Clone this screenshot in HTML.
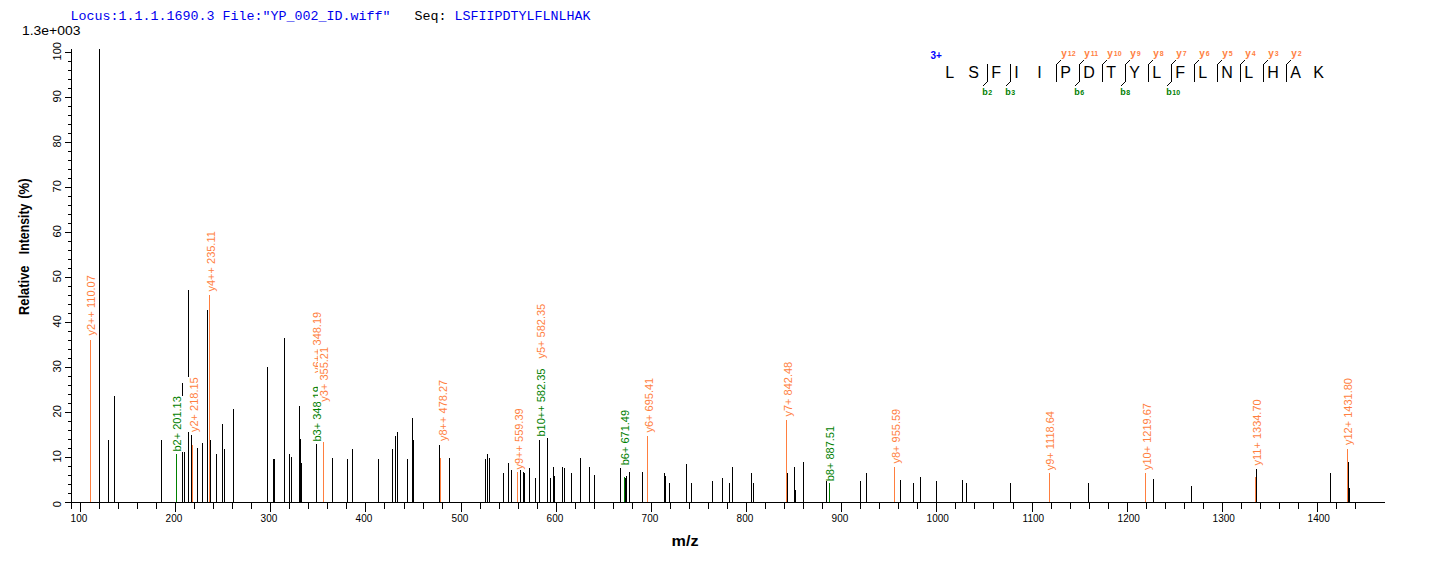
<!DOCTYPE html>
<html><head><meta charset="utf-8"><style>
html,body{margin:0;padding:0;background:#fff;}
svg{display:block;}
text{font-family:"Liberation Sans",sans-serif;}
.lb{font-size:11px;}
.tk{font-size:10px;fill:#000;}
.tky{font-size:11px;fill:#000;}
.ax{font-size:14px;font-weight:bold;fill:#000;}
.sc{font-size:13px;fill:#000;}
.mz{font-size:14px;font-weight:bold;fill:#000;}
.hd{font-family:"Liberation Mono",monospace;font-size:13.333px;}
.z3{font-size:10px;font-weight:bold;fill:#0000ff;}
.sq{font-size:16px;fill:#000;}
.iy{font-size:10px;font-weight:bold;}
.ib{font-size:9px;font-weight:bold;}
.ni{font-size:7px;}
</style></head><body>
<svg width="1436" height="562" viewBox="0 0 1436 562" shape-rendering="crispEdges">
<rect width="1436" height="562" fill="#fff"/>
<rect x="90" y="340" width="1" height="163" fill="#ff7f3f"/>
<rect x="99" y="49" width="1" height="454" fill="#000000"/>
<rect x="108" y="440" width="1" height="63" fill="#000000"/>
<rect x="114" y="396" width="1" height="107" fill="#000000"/>
<rect x="161" y="440" width="1" height="63" fill="#000000"/>
<rect x="176" y="454" width="1" height="49" fill="#008000"/>
<rect x="182" y="383" width="1" height="120" fill="#000000"/>
<rect x="184" y="452" width="1" height="51" fill="#000000"/>
<rect x="188" y="290" width="1" height="213" fill="#000000"/>
<rect x="191" y="435" width="1" height="68" fill="#000000"/>
<rect x="192" y="445" width="1" height="58" fill="#ff7f3f"/>
<rect x="197" y="448" width="1" height="55" fill="#000000"/>
<rect x="202" y="443" width="1" height="60" fill="#000000"/>
<rect x="207" y="310" width="1" height="193" fill="#000000"/>
<rect x="209" y="295" width="1" height="208" fill="#ff7f3f"/>
<rect x="210" y="440" width="1" height="63" fill="#000000"/>
<rect x="216" y="454" width="1" height="49" fill="#000000"/>
<rect x="222" y="424" width="1" height="79" fill="#000000"/>
<rect x="224" y="449" width="1" height="54" fill="#000000"/>
<rect x="233" y="409" width="1" height="94" fill="#000000"/>
<rect x="267" y="367" width="1" height="136" fill="#000000"/>
<rect x="273" y="459" width="1" height="44" fill="#000000"/>
<rect x="274" y="459" width="1" height="44" fill="#000000"/>
<rect x="284" y="338" width="1" height="165" fill="#000000"/>
<rect x="289" y="454" width="1" height="49" fill="#000000"/>
<rect x="291" y="457" width="1" height="46" fill="#000000"/>
<rect x="299" y="406" width="1" height="97" fill="#000000"/>
<rect x="300" y="439" width="1" height="64" fill="#000000"/>
<rect x="301" y="463" width="1" height="40" fill="#000000"/>
<rect x="316" y="444" width="1" height="59" fill="#000000"/>
<rect x="323" y="404" width="1" height="99" fill="#ff7f3f"/>
<rect x="332" y="458" width="1" height="45" fill="#000000"/>
<rect x="347" y="459" width="1" height="44" fill="#000000"/>
<rect x="352" y="449" width="1" height="54" fill="#000000"/>
<rect x="378" y="459" width="1" height="44" fill="#000000"/>
<rect x="392" y="449" width="1" height="54" fill="#000000"/>
<rect x="395" y="436" width="1" height="67" fill="#000000"/>
<rect x="397" y="432" width="1" height="71" fill="#000000"/>
<rect x="407" y="459" width="1" height="44" fill="#000000"/>
<rect x="412" y="418" width="1" height="85" fill="#000000"/>
<rect x="413" y="440" width="1" height="63" fill="#000000"/>
<rect x="439" y="445" width="1" height="58" fill="#000000"/>
<rect x="440" y="458" width="1" height="45" fill="#ff7f3f"/>
<rect x="449" y="458" width="1" height="45" fill="#000000"/>
<rect x="485" y="459" width="1" height="44" fill="#000000"/>
<rect x="487" y="454" width="1" height="49" fill="#000000"/>
<rect x="489" y="458" width="1" height="45" fill="#000000"/>
<rect x="503" y="473" width="1" height="30" fill="#000000"/>
<rect x="508" y="463" width="1" height="40" fill="#000000"/>
<rect x="511" y="470" width="1" height="33" fill="#000000"/>
<rect x="517" y="472" width="1" height="31" fill="#ff7f3f"/>
<rect x="520" y="470" width="1" height="33" fill="#000000"/>
<rect x="523" y="472" width="1" height="31" fill="#000000"/>
<rect x="524" y="473" width="1" height="30" fill="#000000"/>
<rect x="529" y="468" width="1" height="35" fill="#000000"/>
<rect x="535" y="478" width="1" height="25" fill="#000000"/>
<rect x="539" y="440" width="1" height="63" fill="#000000"/>
<rect x="547" y="438" width="1" height="65" fill="#000000"/>
<rect x="550" y="478" width="1" height="25" fill="#000000"/>
<rect x="553" y="467" width="1" height="36" fill="#000000"/>
<rect x="554" y="476" width="1" height="27" fill="#000000"/>
<rect x="562" y="467" width="1" height="36" fill="#000000"/>
<rect x="564" y="468" width="1" height="35" fill="#000000"/>
<rect x="571" y="473" width="1" height="30" fill="#000000"/>
<rect x="580" y="458" width="1" height="45" fill="#000000"/>
<rect x="589" y="467" width="1" height="36" fill="#000000"/>
<rect x="594" y="475" width="1" height="28" fill="#000000"/>
<rect x="620" y="468" width="1" height="35" fill="#000000"/>
<rect x="624" y="477" width="1" height="26" fill="#008000"/>
<rect x="625" y="478" width="1" height="25" fill="#000000"/>
<rect x="626" y="476" width="1" height="27" fill="#000000"/>
<rect x="629" y="472" width="1" height="31" fill="#000000"/>
<rect x="642" y="472" width="1" height="31" fill="#000000"/>
<rect x="647" y="436" width="1" height="67" fill="#ff7f3f"/>
<rect x="664" y="473" width="1" height="30" fill="#000000"/>
<rect x="665" y="476" width="1" height="27" fill="#000000"/>
<rect x="669" y="483" width="1" height="20" fill="#000000"/>
<rect x="686" y="464" width="1" height="39" fill="#000000"/>
<rect x="691" y="483" width="1" height="20" fill="#000000"/>
<rect x="712" y="481" width="1" height="22" fill="#000000"/>
<rect x="722" y="478" width="1" height="25" fill="#000000"/>
<rect x="729" y="483" width="1" height="20" fill="#000000"/>
<rect x="732" y="467" width="1" height="36" fill="#000000"/>
<rect x="751" y="473" width="1" height="30" fill="#000000"/>
<rect x="753" y="483" width="1" height="20" fill="#000000"/>
<rect x="786" y="420" width="1" height="83" fill="#ff7f3f"/>
<rect x="787" y="473" width="1" height="30" fill="#000000"/>
<rect x="794" y="467" width="1" height="36" fill="#000000"/>
<rect x="795" y="490" width="1" height="13" fill="#000000"/>
<rect x="803" y="462" width="1" height="41" fill="#000000"/>
<rect x="826" y="481" width="1" height="22" fill="#000000"/>
<rect x="829" y="483" width="1" height="20" fill="#008000"/>
<rect x="860" y="481" width="1" height="22" fill="#000000"/>
<rect x="866" y="473" width="1" height="30" fill="#000000"/>
<rect x="894" y="467" width="1" height="36" fill="#ff7f3f"/>
<rect x="900" y="480" width="1" height="23" fill="#000000"/>
<rect x="913" y="483" width="1" height="20" fill="#000000"/>
<rect x="920" y="477" width="1" height="26" fill="#000000"/>
<rect x="936" y="481" width="1" height="22" fill="#000000"/>
<rect x="962" y="480" width="1" height="23" fill="#000000"/>
<rect x="966" y="483" width="1" height="20" fill="#000000"/>
<rect x="1010" y="483" width="1" height="20" fill="#000000"/>
<rect x="1049" y="473" width="1" height="30" fill="#ff7f3f"/>
<rect x="1088" y="483" width="1" height="20" fill="#000000"/>
<rect x="1145" y="473" width="1" height="30" fill="#ff7f3f"/>
<rect x="1153" y="479" width="1" height="24" fill="#000000"/>
<rect x="1191" y="486" width="1" height="17" fill="#000000"/>
<rect x="1255" y="477" width="1" height="26" fill="#ff7f3f"/>
<rect x="1256" y="469" width="1" height="34" fill="#000000"/>
<rect x="1330" y="473" width="1" height="30" fill="#000000"/>
<rect x="1347" y="449" width="1" height="54" fill="#ff7f3f"/>
<rect x="1348" y="462" width="1" height="41" fill="#000000"/>
<rect x="1349" y="488" width="1" height="15" fill="#000000"/>
<g transform="translate(95,335.5) rotate(-90)"><rect x="0" y="-9.96" width="60.35" height="12.29" fill="#fff"/><text class="lb" x="0" y="0" fill="#ff7f3f" >y2++ 110.07</text></g>
<g transform="translate(180.5,451.5) rotate(-90)"><rect x="0" y="-9.96" width="55.36" height="12.29" fill="#fff"/><text class="lb" x="0" y="0" fill="#008000" >b2+ 201.13</text></g>
<g transform="translate(197.5,432) rotate(-90)"><rect x="0" y="-9.96" width="54.74" height="12.29" fill="#fff"/><text class="lb" x="0" y="0" fill="#ff7f3f" >y2+ 218.15</text></g>
<g transform="translate(214.5,291.5) rotate(-90)"><rect x="0" y="-9.96" width="60.35" height="12.29" fill="#fff"/><text class="lb" x="0" y="0" fill="#ff7f3f" >y4++ 235.11</text></g>
<g transform="translate(321.3,441.5) rotate(-90)"><rect x="0" y="-9.96" width="55.36" height="12.29" fill="#fff"/><text class="lb" x="0" y="0" fill="#008000" >b3+ 348.19</text></g>
<g transform="translate(321,373) rotate(-90)"><rect x="0" y="-9.96" width="61.17" height="12.29" fill="#fff"/><text class="lb" x="0" y="0" fill="#ff7f3f" >y6++ 348.19</text></g>
<g transform="translate(327.8,401.7) rotate(-90)"><rect x="0" y="-9.96" width="54.74" height="12.29" fill="#fff"/><text class="lb" x="0" y="0" fill="#ff7f3f" >y3+ 355.21</text></g>
<g transform="translate(446.5,441) rotate(-90)"><rect x="0" y="-9.96" width="61.17" height="12.29" fill="#fff"/><text class="lb" x="0" y="0" fill="#ff7f3f" >y8++ 478.27</text></g>
<g transform="translate(522.5,469.5) rotate(-90)"><rect x="0" y="-9.96" width="61.17" height="12.29" fill="#fff"/><text class="lb" x="0" y="0" fill="#ff7f3f" >y9++ 559.39</text></g>
<g transform="translate(545,436.5) rotate(-90)"><rect x="0" y="-9.96" width="67.90" height="12.29" fill="#fff"/><text class="lb" x="0" y="0" fill="#008000" >b10++ 582.35</text></g>
<g transform="translate(545,358.5) rotate(-90)"><rect x="0" y="-9.96" width="54.74" height="12.29" fill="#fff"/><text class="lb" x="0" y="0" fill="#ff7f3f" >y5+ 582.35</text></g>
<g transform="translate(628.6,465.3) rotate(-90)"><rect x="0" y="-9.96" width="55.36" height="12.29" fill="#fff"/><text class="lb" x="0" y="0" fill="#008000" >b6+ 671.49</text></g>
<g transform="translate(653,432.5) rotate(-90)"><rect x="0" y="-9.96" width="54.74" height="12.29" fill="#fff"/><text class="lb" x="0" y="0" fill="#ff7f3f" >y6+ 695.41</text></g>
<g transform="translate(791.7,416.5) rotate(-90)"><rect x="0" y="-9.96" width="54.74" height="12.29" fill="#fff"/><text class="lb" x="0" y="0" fill="#ff7f3f" >y7+ 842.48</text></g>
<g transform="translate(834,481.3) rotate(-90)"><rect x="0" y="-9.96" width="55.36" height="12.29" fill="#fff"/><text class="lb" x="0" y="0" fill="#008000" >b8+ 887.51</text></g>
<g transform="translate(900,463.5) rotate(-90)"><rect x="0" y="-9.96" width="54.74" height="12.29" fill="#fff"/><text class="lb" x="0" y="0" fill="#ff7f3f" >y8+ 955.59</text></g>
<g transform="translate(1054,470.3) rotate(-90)"><rect x="0" y="-9.96" width="59.23" height="12.29" fill="#fff"/><text class="lb" x="0" y="0" fill="#ff7f3f" >y9+ 1118.64</text></g>
<g transform="translate(1151,470) rotate(-90)"><rect x="0" y="-9.96" width="66.98" height="12.29" fill="#fff"/><text class="lb" x="0" y="0" fill="#ff7f3f" >y10+ 1219.67</text></g>
<g transform="translate(1261,465.5) rotate(-90)"><rect x="0" y="-9.96" width="66.16" height="12.29" fill="#fff"/><text class="lb" x="0" y="0" fill="#ff7f3f" >y11+ 1334.70</text></g>
<g transform="translate(1351.8,445) rotate(-90)"><rect x="0" y="-9.96" width="66.98" height="12.29" fill="#fff"/><text class="lb" x="0" y="0" fill="#ff7f3f" >y12+ 1431.80</text></g>
<rect x="65" y="502" width="1320" height="1" fill="#000"/>
<rect x="71" y="49" width="1" height="460" fill="#000"/>
<rect x="65" y="502" width="6" height="1" fill="#000"/>
<rect x="68" y="493" width="3" height="1" fill="#000"/>
<rect x="68" y="484" width="3" height="1" fill="#000"/>
<rect x="68" y="475" width="3" height="1" fill="#000"/>
<rect x="68" y="466" width="3" height="1" fill="#000"/>
<rect x="65" y="457" width="6" height="1" fill="#000"/>
<rect x="68" y="448" width="3" height="1" fill="#000"/>
<rect x="68" y="439" width="3" height="1" fill="#000"/>
<rect x="68" y="430" width="3" height="1" fill="#000"/>
<rect x="68" y="421" width="3" height="1" fill="#000"/>
<rect x="65" y="412" width="6" height="1" fill="#000"/>
<rect x="68" y="403" width="3" height="1" fill="#000"/>
<rect x="68" y="394" width="3" height="1" fill="#000"/>
<rect x="68" y="385" width="3" height="1" fill="#000"/>
<rect x="68" y="376" width="3" height="1" fill="#000"/>
<rect x="65" y="367" width="6" height="1" fill="#000"/>
<rect x="68" y="358" width="3" height="1" fill="#000"/>
<rect x="68" y="349" width="3" height="1" fill="#000"/>
<rect x="68" y="340" width="3" height="1" fill="#000"/>
<rect x="68" y="331" width="3" height="1" fill="#000"/>
<rect x="65" y="322" width="6" height="1" fill="#000"/>
<rect x="68" y="313" width="3" height="1" fill="#000"/>
<rect x="68" y="304" width="3" height="1" fill="#000"/>
<rect x="68" y="295" width="3" height="1" fill="#000"/>
<rect x="68" y="286" width="3" height="1" fill="#000"/>
<rect x="65" y="277" width="6" height="1" fill="#000"/>
<rect x="68" y="268" width="3" height="1" fill="#000"/>
<rect x="68" y="259" width="3" height="1" fill="#000"/>
<rect x="68" y="250" width="3" height="1" fill="#000"/>
<rect x="68" y="241" width="3" height="1" fill="#000"/>
<rect x="65" y="232" width="6" height="1" fill="#000"/>
<rect x="68" y="223" width="3" height="1" fill="#000"/>
<rect x="68" y="214" width="3" height="1" fill="#000"/>
<rect x="68" y="205" width="3" height="1" fill="#000"/>
<rect x="68" y="196" width="3" height="1" fill="#000"/>
<rect x="65" y="187" width="6" height="1" fill="#000"/>
<rect x="68" y="178" width="3" height="1" fill="#000"/>
<rect x="68" y="169" width="3" height="1" fill="#000"/>
<rect x="68" y="160" width="3" height="1" fill="#000"/>
<rect x="68" y="151" width="3" height="1" fill="#000"/>
<rect x="65" y="142" width="6" height="1" fill="#000"/>
<rect x="68" y="133" width="3" height="1" fill="#000"/>
<rect x="68" y="124" width="3" height="1" fill="#000"/>
<rect x="68" y="115" width="3" height="1" fill="#000"/>
<rect x="68" y="106" width="3" height="1" fill="#000"/>
<rect x="65" y="97" width="6" height="1" fill="#000"/>
<rect x="68" y="88" width="3" height="1" fill="#000"/>
<rect x="68" y="79" width="3" height="1" fill="#000"/>
<rect x="68" y="70" width="3" height="1" fill="#000"/>
<rect x="68" y="61" width="3" height="1" fill="#000"/>
<rect x="65" y="52" width="6" height="1" fill="#000"/>
<rect x="80" y="503" width="1" height="9" fill="#000"/>
<text class="tk" x="70.6" y="522">100</text>
<rect x="99" y="503" width="1" height="6" fill="#000"/>
<rect x="118" y="503" width="1" height="6" fill="#000"/>
<rect x="137" y="503" width="1" height="6" fill="#000"/>
<rect x="156" y="503" width="1" height="6" fill="#000"/>
<rect x="175" y="503" width="1" height="9" fill="#000"/>
<text class="tk" x="165.6" y="522">200</text>
<rect x="194" y="503" width="1" height="6" fill="#000"/>
<rect x="213" y="503" width="1" height="6" fill="#000"/>
<rect x="232" y="503" width="1" height="6" fill="#000"/>
<rect x="251" y="503" width="1" height="6" fill="#000"/>
<rect x="270" y="503" width="1" height="9" fill="#000"/>
<text class="tk" x="260.6" y="522">300</text>
<rect x="289" y="503" width="1" height="6" fill="#000"/>
<rect x="308" y="503" width="1" height="6" fill="#000"/>
<rect x="327" y="503" width="1" height="6" fill="#000"/>
<rect x="346" y="503" width="1" height="6" fill="#000"/>
<rect x="365" y="503" width="1" height="9" fill="#000"/>
<text class="tk" x="355.6" y="522">400</text>
<rect x="384" y="503" width="1" height="6" fill="#000"/>
<rect x="404" y="503" width="1" height="6" fill="#000"/>
<rect x="423" y="503" width="1" height="6" fill="#000"/>
<rect x="442" y="503" width="1" height="6" fill="#000"/>
<rect x="461" y="503" width="1" height="9" fill="#000"/>
<text class="tk" x="451.6" y="522">500</text>
<rect x="480" y="503" width="1" height="6" fill="#000"/>
<rect x="499" y="503" width="1" height="6" fill="#000"/>
<rect x="518" y="503" width="1" height="6" fill="#000"/>
<rect x="537" y="503" width="1" height="6" fill="#000"/>
<rect x="556" y="503" width="1" height="9" fill="#000"/>
<text class="tk" x="546.6" y="522">600</text>
<rect x="575" y="503" width="1" height="6" fill="#000"/>
<rect x="594" y="503" width="1" height="6" fill="#000"/>
<rect x="613" y="503" width="1" height="6" fill="#000"/>
<rect x="632" y="503" width="1" height="6" fill="#000"/>
<rect x="651" y="503" width="1" height="9" fill="#000"/>
<text class="tk" x="641.6" y="522">700</text>
<rect x="670" y="503" width="1" height="6" fill="#000"/>
<rect x="689" y="503" width="1" height="6" fill="#000"/>
<rect x="708" y="503" width="1" height="6" fill="#000"/>
<rect x="727" y="503" width="1" height="6" fill="#000"/>
<rect x="746" y="503" width="1" height="9" fill="#000"/>
<text class="tk" x="736.6" y="522">800</text>
<rect x="765" y="503" width="1" height="6" fill="#000"/>
<rect x="784" y="503" width="1" height="6" fill="#000"/>
<rect x="803" y="503" width="1" height="6" fill="#000"/>
<rect x="822" y="503" width="1" height="6" fill="#000"/>
<rect x="841" y="503" width="1" height="9" fill="#000"/>
<text class="tk" x="831.6" y="522">900</text>
<rect x="860" y="503" width="1" height="6" fill="#000"/>
<rect x="879" y="503" width="1" height="6" fill="#000"/>
<rect x="898" y="503" width="1" height="6" fill="#000"/>
<rect x="917" y="503" width="1" height="6" fill="#000"/>
<rect x="936" y="503" width="1" height="9" fill="#000"/>
<text class="tk" x="926.6" y="522">1000</text>
<rect x="955" y="503" width="1" height="6" fill="#000"/>
<rect x="974" y="503" width="1" height="6" fill="#000"/>
<rect x="993" y="503" width="1" height="6" fill="#000"/>
<rect x="1013" y="503" width="1" height="6" fill="#000"/>
<rect x="1032" y="503" width="1" height="9" fill="#000"/>
<text class="tk" x="1022.6" y="522">1100</text>
<rect x="1051" y="503" width="1" height="6" fill="#000"/>
<rect x="1070" y="503" width="1" height="6" fill="#000"/>
<rect x="1089" y="503" width="1" height="6" fill="#000"/>
<rect x="1108" y="503" width="1" height="6" fill="#000"/>
<rect x="1127" y="503" width="1" height="9" fill="#000"/>
<text class="tk" x="1117.6" y="522">1200</text>
<rect x="1146" y="503" width="1" height="6" fill="#000"/>
<rect x="1165" y="503" width="1" height="6" fill="#000"/>
<rect x="1184" y="503" width="1" height="6" fill="#000"/>
<rect x="1203" y="503" width="1" height="6" fill="#000"/>
<rect x="1222" y="503" width="1" height="9" fill="#000"/>
<text class="tk" x="1212.6" y="522">1300</text>
<rect x="1241" y="503" width="1" height="6" fill="#000"/>
<rect x="1260" y="503" width="1" height="6" fill="#000"/>
<rect x="1279" y="503" width="1" height="6" fill="#000"/>
<rect x="1298" y="503" width="1" height="6" fill="#000"/>
<rect x="1317" y="503" width="1" height="9" fill="#000"/>
<text class="tk" x="1307.6" y="522">1400</text>
<rect x="1336" y="503" width="1" height="6" fill="#000"/>
<rect x="1355" y="503" width="1" height="6" fill="#000"/>
<g transform="translate(61,504.2) rotate(-90)"><text class="tky" x="0" y="0" text-anchor="middle">0</text></g>
<g transform="translate(61,456.3) rotate(-90)"><text class="tky" x="0" y="0" text-anchor="middle">10</text></g>
<g transform="translate(61,411.3) rotate(-90)"><text class="tky" x="0" y="0" text-anchor="middle">20</text></g>
<g transform="translate(61,366.3) rotate(-90)"><text class="tky" x="0" y="0" text-anchor="middle">30</text></g>
<g transform="translate(61,321.3) rotate(-90)"><text class="tky" x="0" y="0" text-anchor="middle">40</text></g>
<g transform="translate(61,276.3) rotate(-90)"><text class="tky" x="0" y="0" text-anchor="middle">50</text></g>
<g transform="translate(61,231.3) rotate(-90)"><text class="tky" x="0" y="0" text-anchor="middle">60</text></g>
<g transform="translate(61,186.3) rotate(-90)"><text class="tky" x="0" y="0" text-anchor="middle">70</text></g>
<g transform="translate(61,141.3) rotate(-90)"><text class="tky" x="0" y="0" text-anchor="middle">80</text></g>
<g transform="translate(61,96.3) rotate(-90)"><text class="tky" x="0" y="0" text-anchor="middle">90</text></g>
<g transform="translate(61,51.3) rotate(-90)"><text class="tky" x="0" y="0" text-anchor="middle">100</text></g>
<g transform="translate(29,315) rotate(-90)"><text class="ax" x="0" y="0" textLength="49.5" lengthAdjust="spacingAndGlyphs">Relative</text></g>
<g transform="translate(29,254.2) rotate(-90)"><text class="ax" x="0" y="0" textLength="50.6" lengthAdjust="spacingAndGlyphs">Intensity</text></g>
<g transform="translate(29,198.8) rotate(-90)"><text class="ax" x="0" y="0" textLength="20.3" lengthAdjust="spacingAndGlyphs">(%)</text></g>
<text x="22" y="35" class="sc" textLength="58.5" lengthAdjust="spacingAndGlyphs">1.3e+003</text>
<text x="671.5" y="546" class="mz" textLength="27" lengthAdjust="spacingAndGlyphs">m/z</text>
<text class="hd" x="70.5" y="20" xml:space="preserve"><tspan fill="#0000ee">Locus:1.1.1.1690.3 File:"YP_002_ID.wiff"</tspan><tspan fill="#000">   Seq: </tspan><tspan fill="#0000ee">LSFIIPDTYLFLNLHAK</tspan></text>
<text x="930.5" y="59" class="z3">3+</text>
<text x="945.3" y="78" class="sq">L</text>
<text x="968.3" y="78" class="sq">S</text>
<text x="991.3" y="78" class="sq">F</text>
<text x="1014.3" y="78" class="sq">I</text>
<text x="1037.3" y="78" class="sq">I</text>
<text x="1060.3" y="78" class="sq">P</text>
<text x="1083.3" y="78" class="sq">D</text>
<text x="1106.3" y="78" class="sq">T</text>
<text x="1129.3" y="78" class="sq">Y</text>
<text x="1152.3" y="78" class="sq">L</text>
<text x="1175.3" y="78" class="sq">F</text>
<text x="1198.3" y="78" class="sq">L</text>
<text x="1221.3" y="78" class="sq">N</text>
<text x="1244.3" y="78" class="sq">L</text>
<text x="1267.3" y="78" class="sq">H</text>
<text x="1290.3" y="78" class="sq">A</text>
<text x="1313.3" y="78" class="sq">K</text>
<line x1="987.8" y1="64" x2="987.8" y2="82" stroke="#000" stroke-width="1"/>
<line x1="987.8" y1="81.5" x2="983.3" y2="86" stroke="#000" stroke-width="1"/>
<text x="982.3" y="94.5" class="ib" fill="#008000">b<tspan class="ni" dx="0.5" dy="0">2</tspan></text>
<line x1="1010.8" y1="64" x2="1010.8" y2="82" stroke="#000" stroke-width="1"/>
<line x1="1010.8" y1="81.5" x2="1006.3" y2="86" stroke="#000" stroke-width="1"/>
<text x="1005.3" y="94.5" class="ib" fill="#008000">b<tspan class="ni" dx="0.5" dy="0">3</tspan></text>
<line x1="1056.8" y1="64" x2="1056.8" y2="82" stroke="#000" stroke-width="1"/>
<line x1="1056.8" y1="64.5" x2="1061.3" y2="60" stroke="#000" stroke-width="1"/>
<text x="1061.3" y="57" class="iy" fill="#ff7f3f">y<tspan class="ni" dx="1" dy="-1.5">12</tspan></text>
<line x1="1079.8" y1="64" x2="1079.8" y2="82" stroke="#000" stroke-width="1"/>
<line x1="1079.8" y1="64.5" x2="1084.3" y2="60" stroke="#000" stroke-width="1"/>
<text x="1084.3" y="57" class="iy" fill="#ff7f3f">y<tspan class="ni" dx="1" dy="-1.5">11</tspan></text>
<line x1="1079.8" y1="81.5" x2="1075.3" y2="86" stroke="#000" stroke-width="1"/>
<text x="1074.3" y="94.5" class="ib" fill="#008000">b<tspan class="ni" dx="0.5" dy="0">6</tspan></text>
<line x1="1102.8" y1="64" x2="1102.8" y2="82" stroke="#000" stroke-width="1"/>
<line x1="1102.8" y1="64.5" x2="1107.3" y2="60" stroke="#000" stroke-width="1"/>
<text x="1107.3" y="57" class="iy" fill="#ff7f3f">y<tspan class="ni" dx="1" dy="-1.5">10</tspan></text>
<line x1="1125.8" y1="64" x2="1125.8" y2="82" stroke="#000" stroke-width="1"/>
<line x1="1125.8" y1="64.5" x2="1130.3" y2="60" stroke="#000" stroke-width="1"/>
<text x="1130.3" y="57" class="iy" fill="#ff7f3f">y<tspan class="ni" dx="1" dy="-1.5">9</tspan></text>
<line x1="1125.8" y1="81.5" x2="1121.3" y2="86" stroke="#000" stroke-width="1"/>
<text x="1120.3" y="94.5" class="ib" fill="#008000">b<tspan class="ni" dx="0.5" dy="0">8</tspan></text>
<line x1="1148.8" y1="64" x2="1148.8" y2="82" stroke="#000" stroke-width="1"/>
<line x1="1148.8" y1="64.5" x2="1153.3" y2="60" stroke="#000" stroke-width="1"/>
<text x="1153.3" y="57" class="iy" fill="#ff7f3f">y<tspan class="ni" dx="1" dy="-1.5">8</tspan></text>
<line x1="1171.8" y1="64" x2="1171.8" y2="82" stroke="#000" stroke-width="1"/>
<line x1="1171.8" y1="64.5" x2="1176.3" y2="60" stroke="#000" stroke-width="1"/>
<text x="1176.3" y="57" class="iy" fill="#ff7f3f">y<tspan class="ni" dx="1" dy="-1.5">7</tspan></text>
<line x1="1171.8" y1="81.5" x2="1167.3" y2="86" stroke="#000" stroke-width="1"/>
<text x="1166.3" y="94.5" class="ib" fill="#008000">b<tspan class="ni" dx="0.5" dy="0">10</tspan></text>
<line x1="1194.8" y1="64" x2="1194.8" y2="82" stroke="#000" stroke-width="1"/>
<line x1="1194.8" y1="64.5" x2="1199.3" y2="60" stroke="#000" stroke-width="1"/>
<text x="1199.3" y="57" class="iy" fill="#ff7f3f">y<tspan class="ni" dx="1" dy="-1.5">6</tspan></text>
<line x1="1217.8" y1="64" x2="1217.8" y2="82" stroke="#000" stroke-width="1"/>
<line x1="1217.8" y1="64.5" x2="1222.3" y2="60" stroke="#000" stroke-width="1"/>
<text x="1222.3" y="57" class="iy" fill="#ff7f3f">y<tspan class="ni" dx="1" dy="-1.5">5</tspan></text>
<line x1="1240.8" y1="64" x2="1240.8" y2="82" stroke="#000" stroke-width="1"/>
<line x1="1240.8" y1="64.5" x2="1245.3" y2="60" stroke="#000" stroke-width="1"/>
<text x="1245.3" y="57" class="iy" fill="#ff7f3f">y<tspan class="ni" dx="1" dy="-1.5">4</tspan></text>
<line x1="1263.8" y1="64" x2="1263.8" y2="82" stroke="#000" stroke-width="1"/>
<line x1="1263.8" y1="64.5" x2="1268.3" y2="60" stroke="#000" stroke-width="1"/>
<text x="1268.3" y="57" class="iy" fill="#ff7f3f">y<tspan class="ni" dx="1" dy="-1.5">3</tspan></text>
<line x1="1286.8" y1="64" x2="1286.8" y2="82" stroke="#000" stroke-width="1"/>
<line x1="1286.8" y1="64.5" x2="1291.3" y2="60" stroke="#000" stroke-width="1"/>
<text x="1291.3" y="57" class="iy" fill="#ff7f3f">y<tspan class="ni" dx="1" dy="-1.5">2</tspan></text>
</svg>
</body></html>
